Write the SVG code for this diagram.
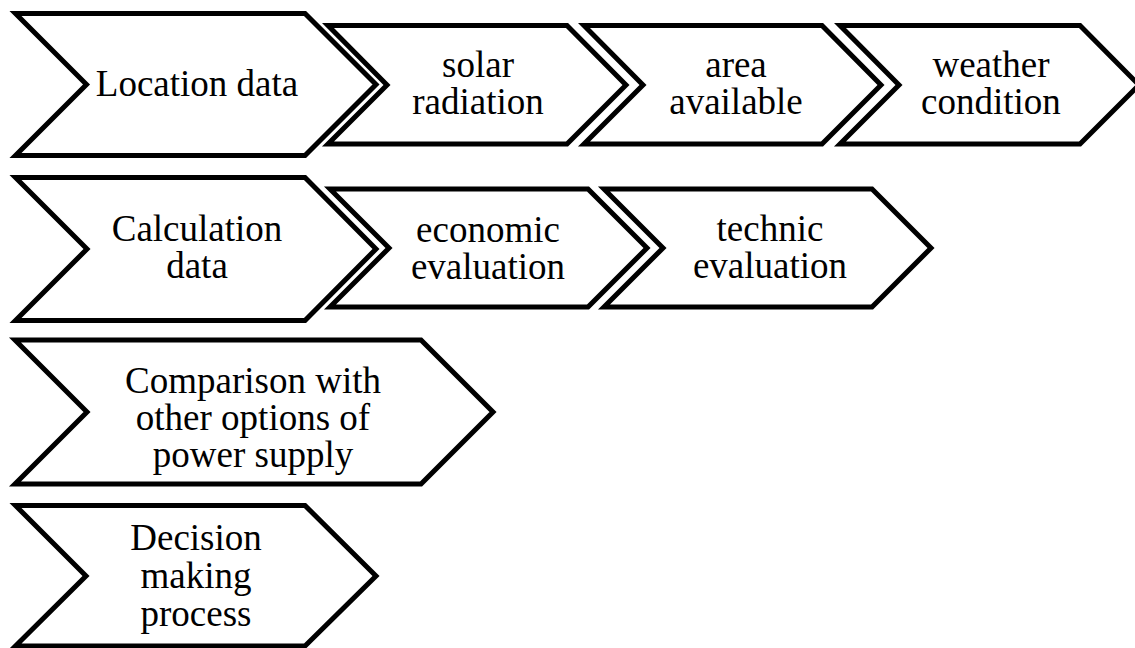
<svg xmlns="http://www.w3.org/2000/svg" width="1135" height="648" viewBox="0 0 1135 648">
<style>
.chev{fill:#fff;stroke:#000;stroke-width:5;stroke-linejoin:miter;stroke-miterlimit:10}
.t{font-family:"Liberation Serif","Times New Roman",serif;font-size:37px;fill:#000;text-anchor:middle}
</style>
<rect width="1135" height="648" fill="#fff"/>
<g id="location-data">
<polygon class="chev" points="15.5,13.5 305,13.5 376,84.5 305,155.5 15.5,155.5 86.5,84.5"/>
<text class="t" x="197" y="96">Location data</text>
</g>
<g id="solar-radiation">
<polygon class="chev" points="328,25.5 567,25.5 626,85 567,144 328,144 387,85"/>
<text class="t" x="478" y="77">solar</text>
<text class="t" x="478" y="114">radiation</text>
</g>
<g id="area-available">
<polygon class="chev" points="584,25.5 822,25.5 881,85 822,144 584,144 643,85"/>
<text class="t" x="736" y="77">area</text>
<text class="t" x="736" y="114">available</text>
</g>
<g id="weather-condition">
<polygon class="chev" points="840,25.5 1080,25.5 1139,85 1080,144 840,144 899,85"/>
<text class="t" x="991" y="77">weather</text>
<text class="t" x="991" y="114">condition</text>
</g>
<g id="calculation-data">
<polygon class="chev" points="15.5,177.5 305,177.5 376,249 305,320.5 15.5,320.5 87,249"/>
<text class="t" x="197" y="241">Calculation</text>
<text class="t" x="197" y="278">data</text>
</g>
<g id="economic-evaluation">
<polygon class="chev" points="330,189 588,189 647,248 588,307 330,307 389,248"/>
<text class="t" x="488" y="242">economic</text>
<text class="t" x="488" y="279">evaluation</text>
</g>
<g id="technic-evaluation">
<polygon class="chev" points="604,189 872,189 931,248 872,307 604,307 663,248"/>
<text class="t" x="770" y="241">technic</text>
<text class="t" x="770" y="278">evaluation</text>
</g>
<g id="comparison">
<polygon class="chev" points="15,340 421,340 493,412 421,484 15,484 87,412"/>
<text class="t" x="253" y="393">Comparison with</text>
<text class="t" x="253" y="430">other options of</text>
<text class="t" x="253" y="467">power supply</text>
</g>
<g id="decision-making">
<polygon class="chev" points="15.5,505.5 305,505.5 376,576 305,646 15.5,646 86,576"/>
<text class="t" x="196" y="550">Decision</text>
<text class="t" x="196" y="588">making</text>
<text class="t" x="196" y="626">process</text>
</g>
</svg>
